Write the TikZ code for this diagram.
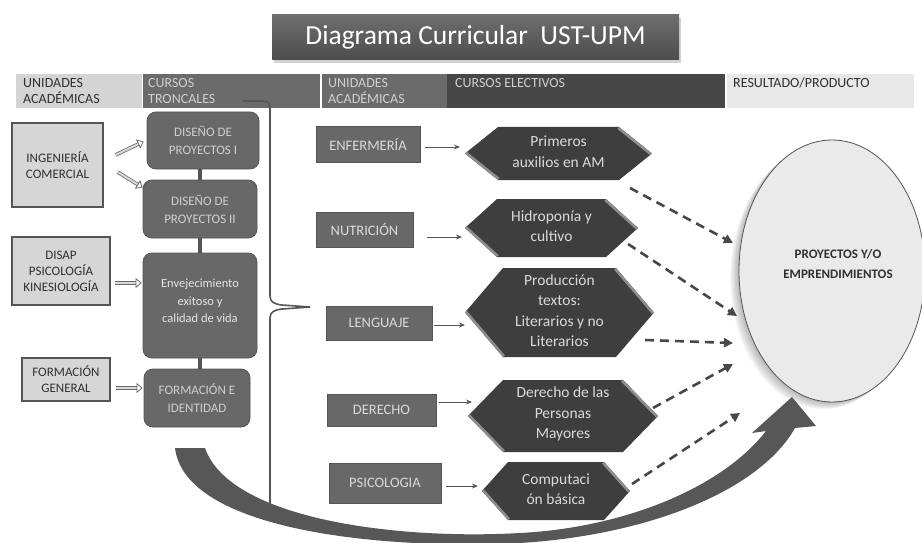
\documentclass[tikz,border=0pt]{standalone}
\usepackage{fontspec}
\setmainfont{Carlito}
\usetikzlibrary{shapes.geometric,arrows.meta,shadows,calc}
\definecolor{tfilltop}{HTML}{6E6E6E}
\definecolor{tfillbot}{HTML}{4C4C4C}
\definecolor{hlight}{HTML}{D4D4D4}
\definecolor{hmid}{HTML}{6B6B6B}
\definecolor{hdark}{HTML}{474747}
\definecolor{hpale}{HTML}{E8E8E8}
\definecolor{txtdark}{HTML}{303030}
\definecolor{txtlight}{HTML}{CFCFCF}
\definecolor{lbfill}{HTML}{D6D6D6}
\definecolor{edgegray}{HTML}{555555}
\definecolor{mfill}{HTML}{686868}
\definecolor{hexfillc}{HTML}{3E3E3E}
\definecolor{bevelc}{HTML}{8E8E8E}
\definecolor{hextxt}{HTML}{DADADA}
\definecolor{ellfill}{HTML}{EAEAEA}
\definecolor{dashc}{HTML}{474747}
\definecolor{bandc}{HTML}{575757}
\definecolor{dblfill}{HTML}{DADADA}
\newcommand\hexago[7]{%
 \coordinate (#1w) at (#2,{(#4+#5)/2});
 \coordinate (#1e) at (#3,{(#4+#5)/2});
 \coordinate (#1tl) at ({#2+#6},#4);
 \coordinate (#1tr) at ({#3-#6},#4);
 \coordinate (#1bl) at ({#2+#6},#5);
 \coordinate (#1br) at ({#3-#6},#5);
 \fill[hexfillc] (#1w) -- (#1tl) -- (#1tr) -- (#1e) -- (#1br) -- (#1bl) -- cycle;
 \begin{scope}
 \clip (#1w) -- (#1tl) -- (#1tr) -- (#1e) -- (#1br) -- (#1bl) -- cycle;
 \draw[bevelc, line width=5pt] (#1w) -- (#1bl);
 \draw[bevelc, line width=5pt] (#1tr) -- (#1e);
 \end{scope}
 \node[hextext] (#1) at ({(#2+#3)/2},{(#4+#5)/2-2}) {#7};
}
\begin{document}
\begin{tikzpicture}[x=1pt,y=-1pt,
 titlebox/.style={top color=tfilltop, bottom color=tfillbot, draw=none, text=white,
   font=\fontsize{27.5}{30}\selectfont, inner sep=0pt,
   drop shadow={shadow xshift=2pt, shadow yshift=-3pt, opacity=0.35}},
 hcell/.style={draw=none, minimum height=34pt, inner sep=0pt, anchor=north west},
 htxt/.style={anchor=north west, inner sep=0pt, align=left, font=\fontsize{14}{16}\selectfont},
 lbox/.style={draw=edgegray, fill=lbfill, line width=1.2pt, align=center, inner sep=0pt,
   font=\fontsize{13}{16}\selectfont, text=txtdark},
 mbox/.style={draw=edgegray, fill=mfill, rounded corners=9pt, line width=0.8pt, align=center,
   inner sep=0pt, font=\fontsize{13}{18}\selectfont, text=txtlight},
 rbox/.style={draw=edgegray, fill=mfill, line width=0.8pt, align=center, inner sep=0pt,
   font=\fontsize{14.5}{16}\selectfont, text=hextxt},
 hextext/.style={align=center, inner sep=0pt, text=hextxt, font=\fontsize{15.5}{20.5}\selectfont},
 vconn/.style={draw=edgegray, line width=4pt},
 dbl/.style={draw=hmid, double=dblfill, double distance=2pt, line width=0.8pt,
   -{Triangle[open, length=6pt, width=10pt]}},
 tarrow/.style={draw=edgegray, line width=0.9pt, -{Stealth[length=6pt, width=5pt]}},
 darrow/.style={draw=dashc, line width=2.6pt, dash pattern=on 9pt off 6pt,
   -{Triangle[length=9pt, width=9pt]}},
 bracec/.style={draw=edgegray, line width=1.6pt}
]
\useasboundingbox (0,0) rectangle (922,543);
\fill[white] (0,0) rectangle (922,543);

% title
\node[titlebox, minimum width=407pt, minimum height=45pt] (title) at (475.5,37.5) {Diagrama Curricular\ \ UST-UPM};

% header bar
\node[hcell, fill=hlight, minimum width=126pt] (h1) at (16,74) {};
\node[hcell, fill=hmid, minimum width=177pt] (h2) at (143,74) {};
\node[hcell, fill=hmid, minimum width=125pt] (h3) at (322,74) {};
\node[hcell, fill=hdark, minimum width=278pt] (h4) at (447,74) {};
\node[hcell, fill=hpale, minimum width=187pt] (h5) at (727,74) {};
\node[htxt, text=txtdark] (h1t) at (23,78) {UNIDADES\\ACADÉMICAS};
\node[htxt, text=txtlight] (h2t) at (148,78) {CURSOS\\TRONCALES};
\node[htxt, text=txtlight] (h3t) at (328,78) {UNIDADES\\ACADÉMICAS};
\node[htxt, text=txtlight] (h4t) at (455,78) {CURSOS ELECTIVOS};
\node[htxt, text=txtdark] (h5t) at (733,78) {RESULTADO/PRODUCTO};

% brace
\draw[bracec] (243,101) -- (263,101) .. controls (268,101) and (270,103) .. (270,108)
  -- (270,296) .. controls (270,302) and (274,304) .. (282,305) -- (310,307)
  -- (282,309) .. controls (274,310) and (270,312) .. (270,318) -- (270,515);

% left column
\node[lbox, minimum width=91pt, minimum height=84pt] (L1) at (57.5,165) {INGENIERÍA\\COMERCIAL};
\node[lbox, minimum width=98pt, minimum height=68pt] (L2) at (61,271) {DISAP\\PSICOLOGÍA\\KINESIOLOGÍA};
\node[lbox, minimum width=88pt, minimum height=43pt] (L3) at (66,379.5) {FORMACIÓN\\GENERAL};

% middle column
\node[mbox, minimum width=112pt, minimum height=57pt] (M1) at (203,140.5) {DISEÑO DE\\PROYECTOS I};
\node[mbox, minimum width=114pt, minimum height=58pt] (M2) at (200,209) {DISEÑO DE\\PROYECTOS II};
\node[mbox, minimum width=114pt, minimum height=105pt, text=white!90!black, font=\fontsize{12.5}{17.5}\selectfont] (M3) at (200,305.5) {Envejecimiento\\exitoso y\\calidad de vida\\[-8pt]};
\node[mbox, minimum width=106pt, minimum height=58pt] (M4) at (197,398) {FORMACIÓN E\\IDENTIDAD};
\draw[vconn] (M2.north) -- (M2.north |- M1.south);
\draw[vconn] (M3.north) -- (M3.north |- M2.south);
\draw[vconn] (M4.north -| M3.north) -- (M3.south);

% left arrows
\draw[dbl] ($(L1.east)+(12,-10)$) -- ($(M1.west)+(-3,1)$);
\draw[dbl] ($(L1.east)+(14,7)$) -- ($(M2.north west)+(0,8)$);
\draw[dbl] ($(L2.east)+(4,12)$) -- ($(M3.west)+(-1,-22.5)$);
\draw[dbl] ($(L3.east)+(5,8.5)$) -- ($(M4.west)+(-1,-10)$);

% right rectangles
\node[rbox, minimum width=104pt, minimum height=36pt] (R1) at (368,144) {ENFERMERÍA};
\node[rbox, minimum width=97pt, minimum height=35pt] (R2) at (364.5,229.5) {NUTRICIÓN};
\node[rbox, minimum width=106pt, minimum height=34pt] (R3) at (379,323) {LENGUAJE};
\node[rbox, minimum width=109pt, minimum height=32pt] (R4) at (381.5,410) {DERECHO};
\node[rbox, minimum width=112pt, minimum height=40pt] (R5) at (385,483) {PSICOLOGIA};

% hexagons
\hexago{H1}{465}{652}{127}{180}{33}{Primeros\\auxilios en AM}
\hexago{H2}{465}{638}{199}{257}{32}{Hidroponía y\\cultivo}
\hexago{H3}{465}{654}{268}{357}{38}{Producción\\textos:\\Literarios y no\\Literarios}
\hexago{H4}{468}{658}{380}{452}{35}{Derecho de las\\Personas\\Mayores}
\hexago{H5}{482}{630}{462}{520}{26}{Computaci\\ón básica}

% thin arrows
\draw[tarrow, shorten <=5pt, shorten >=5pt] (R1.east |- 0,147) -- (H1w |- 0,147);
\draw[tarrow, shorten <=14pt, shorten >=3pt] (R2.east |- 0,237) -- (H2w |- 0,237);
\draw[tarrow, shorten <=2pt, shorten >=0pt] (R3.east |- 0,325) -- (H3w |- 0,325);
\draw[tarrow, shorten <=3pt] (R4.east |- 0,402) -- ([xshift=4pt]H4w |- 0,402);
\draw[tarrow, shorten <=5pt, shorten >=4pt] (R5.east |- 0,486) -- (H5w |- 0,486);

% ellipse with soft shadow
\foreach \i in {1,...,8}{
  \fill[black, opacity=0.035] ({832-1.1*\i},{271+0.9*\i}) ellipse[x radius=93pt, y radius=131pt];
}
\node[ellipse, draw=edgegray, fill=ellfill, line width=0.8pt, minimum width=186pt, minimum height=262pt] (E) at (832,271) {};
\node[align=center, inner sep=0pt, text=txtdark, font=\bfseries\fontsize{13}{20}\selectfont] (Et) at (838,264) {PROYECTOS Y/O\\EMPRENDIMIENTOS};

% dashed arrows
\coordinate (d1s) at (630,188); \coordinate (d1e) at (733,243);
\coordinate (d2s) at (628,244); \coordinate (d2e) at (737,316);
\coordinate (d3s) at (645,340); \coordinate (d3e) at (733,343);
\coordinate (d4s) at (653,408); \coordinate (d4e) at (733,364);
\coordinate (d5s) at (632,484); \coordinate (d5e) at (740,413);
\draw[darrow] (d1s) -- (d1e);
\draw[darrow] (d2s) -- (d2e);
\draw[darrow] (d3s) -- (d3e);
\draw[darrow] (d4s) -- (d4e);
\draw[darrow] (d5s) -- (d5e);

% big curved arrow
\fill[bandc] (175,448) .. controls (185,530) and (380,550) .. (520,543)
  .. controls (650,535) and (760,490) .. (795,428) -- (816,426) -- (792,397) -- (752,433) -- (766,431)
  .. controls (720,490) and (620,528) .. (520,533)
  .. controls (400,540) and (230,520) .. (205,448) -- cycle;
\end{tikzpicture}
\end{document}
